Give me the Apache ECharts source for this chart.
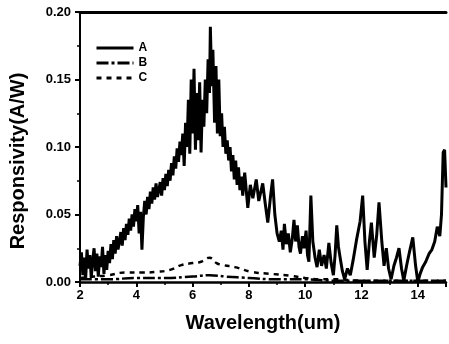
<!DOCTYPE html>
<html>
<head>
<meta charset="utf-8">
<script src="https://cdn.jsdelivr.net/npm/echarts@6/dist/echarts.min.js"></script>
<style>
  html, body { margin: 0; padding: 0; background: #fff; }
  #chart { width: 449px; height: 344px; }
</style>
</head>
<body>
<div id="chart"></div>
<script>
// Spectral responsivity of three detector samples, wavelength in um.
const seriesNames = ['A', 'B', 'C'];

// Sample A: [wavelength, responsivity]
const respA = [
  [2.00,0.012],[2.05,0.022],[2.10,0.005],[2.15,0.018],[2.20,0.002],[2.25,0.024],[2.30,0.010],[2.35,0.020],
  [2.40,0.003],[2.45,0.016],[2.50,0.025],[2.55,0.008],[2.60,0.021],[2.65,0.004],[2.70,0.019],[2.75,0.011],
  [2.80,0.026],[2.85,0.006],[2.90,0.020],[2.95,0.009],[3.00,0.023],[3.05,0.014],[3.10,0.028],[3.15,0.017],
  [3.20,0.031],[3.25,0.021],[3.30,0.034],[3.35,0.024],[3.40,0.030],[3.45,0.037],[3.50,0.027],[3.55,0.040],
  [3.60,0.031],[3.65,0.043],[3.70,0.035],[3.75,0.047],[3.80,0.038],[3.85,0.050],[3.90,0.041],[3.95,0.054],
  [4.00,0.045],[4.05,0.057],[4.10,0.036],[4.15,0.052],[4.20,0.024],[4.25,0.048],[4.30,0.060],[4.35,0.050],
  [4.40,0.063],[4.45,0.054],[4.50,0.067],[4.55,0.058],[4.60,0.070],[4.65,0.061],[4.70,0.073],[4.75,0.063],
  [4.80,0.068],[4.85,0.074],[4.90,0.064],[4.95,0.077],[5.00,0.068],[5.05,0.080],[5.10,0.071],[5.15,0.083],
  [5.20,0.075],[5.25,0.088],[5.30,0.079],[5.35,0.093],[5.40,0.084],[5.45,0.099],[5.50,0.089],[5.55,0.104],
  [5.60,0.094],[5.65,0.110],[5.70,0.086],[5.75,0.118],[5.80,0.100],[5.85,0.135],[5.90,0.095],[5.95,0.150],
  [6.00,0.110],[6.05,0.158],[6.10,0.098],[6.15,0.140],[6.20,0.105],[6.25,0.148],[6.30,0.096],[6.35,0.135],
  [6.40,0.115],[6.45,0.150],[6.50,0.125],[6.55,0.165],[6.60,0.140],[6.63,0.189],[6.68,0.145],[6.72,0.172],
  [6.78,0.118],[6.83,0.160],[6.88,0.110],[6.93,0.150],[6.98,0.108],[7.03,0.125],[7.08,0.100],[7.13,0.115],
  [7.18,0.095],[7.23,0.105],[7.28,0.090],[7.33,0.100],[7.38,0.082],[7.43,0.094],[7.48,0.076],[7.53,0.090],
  [7.58,0.072],[7.63,0.085],[7.68,0.068],[7.73,0.078],[7.78,0.064],[7.85,0.081],[7.96,0.055],[8.05,0.072],
  [8.14,0.062],[8.26,0.076],[8.35,0.060],[8.49,0.073],[8.58,0.058],[8.67,0.044],[8.76,0.062],[8.84,0.076],
  [8.92,0.050],[9.00,0.036],[9.08,0.030],[9.15,0.038],[9.21,0.024],[9.26,0.043],[9.33,0.028],[9.40,0.036],
  [9.47,0.022],[9.54,0.032],[9.60,0.046],[9.66,0.030],[9.72,0.042],[9.78,0.026],[9.83,0.021],[9.90,0.034],
  [9.96,0.025],[10.03,0.038],[10.08,0.020],[10.13,0.015],[10.20,0.064],[10.27,0.030],[10.35,0.018],[10.42,0.011],
  [10.50,0.024],[10.58,0.012],[10.67,0.020],[10.75,0.010],[10.84,0.029],[10.92,0.014],[11.00,0.005],[11.06,0.020],
  [11.12,0.042],[11.18,0.026],[11.24,0.018],[11.32,0.008],[11.40,0.002],[11.50,0.010],[11.60,0.005],[11.70,0.016],
  [11.82,0.031],[11.95,0.045],[12.04,0.064],[12.12,0.030],[12.20,0.009],[12.28,0.030],[12.35,0.044],[12.45,0.018],
  [12.54,0.035],[12.62,0.059],[12.72,0.030],[12.80,0.012],[12.88,0.025],[12.96,0.010],[13.05,0.002],[13.15,0.012],
  [13.24,0.018],[13.33,0.025],[13.42,0.010],[13.50,0.001],[13.60,0.012],[13.70,0.022],[13.82,0.033],[13.92,0.012],
  [14.00,0.000],[14.08,0.006],[14.17,0.011],[14.28,0.015],[14.40,0.021],[14.50,0.024],[14.60,0.030],[14.69,0.041],
  [14.78,0.034],[14.84,0.050],[14.90,0.096],[14.95,0.098],[15.00,0.070]
];

// Sample B: [wavelength, responsivity]
const respB = [
  [2.0,0.002],[3.0,0.002],[4.0,0.003],[5.0,0.003],[6.0,0.004],[6.6,0.005],[7.2,0.004],[8.0,0.003],
  [9.0,0.002],[10.0,0.002],[11.0,0.001],[12.0,0.001],[13.0,0.001],[14.0,0.001],[15.0,0.001]
];

// Sample C: [wavelength, responsivity]
const respC = [
  [2.0,0.003],[2.5,0.004],[3.0,0.005],[3.6,0.007],[4.2,0.007],[4.7,0.0075],[5.2,0.009],[5.6,0.0125],
  [6.0,0.014],[6.3,0.015],[6.6,0.018],[6.85,0.014],[7.1,0.0125],[7.5,0.011],[8.1,0.0075],[8.8,0.006],
  [9.5,0.0045],[10.0,0.003],[10.5,0.002],[11.0,0.002],[12.0,0.001],[13.0,0.001],[14.0,0.001],[15.0,0.001]
];

const yTicks = { min: 0, max: 0.20, interval: 0.05 };
const xTicks = { min: 2, max: 15, interval: 2 };

const chart = echarts.init(document.getElementById('chart'), null, { renderer: 'canvas' });
const ink = '#000';
const fontFam = '"Liberation Sans", Arial, sans-serif';
// line series have no point markers, so the legend shows only the stroke
const noMarker = { color: 'rgba(0,0,0,0)', borderColor: 'rgba(0,0,0,0)' };

chart.setOption({
  backgroundColor: '#fff',
  animation: false,
  grid: { left: 80, right: 0, top: 12, bottom: 62, containLabel: false },
  legend: {
    orient: 'vertical',
    left: 90,
    top: 37,
    itemWidth: 37,
    itemHeight: 14,
    itemGap: 3,
    itemStyle: noMarker,
    lineStyle: { width: 3 },
    textStyle: { color: ink, fontWeight: 'bold', fontSize: 12, fontFamily: fontFam },
    data: seriesNames
  },
  xAxis: [{
    type: 'value',
    min: xTicks.min, max: xTicks.max, interval: xTicks.interval,
    name: 'Wavelength(um)',
    nameLocation: 'middle',
    nameGap: 31,
    nameTextStyle: { color: ink, fontWeight: 'bold', fontSize: 20, fontFamily: fontFam },
    axisLine: { onZero: false, lineStyle: { color: ink, width: 2.5 } },
    axisTick: { inside: false, length: 5, lineStyle: { color: ink, width: 2 } },
    minorTick: { show: true, splitNumber: 2, length: 3, lineStyle: { color: ink, width: 1.5 } },
    axisLabel: { color: ink, fontWeight: 'bold', fontSize: 13, fontFamily: fontFam, margin: 7,
      formatter: v => (v % 2 === 0 ? String(v) : '') },
    splitLine: { show: false }
  }, {
    type: 'value',
    position: 'top',
    min: xTicks.min, max: xTicks.max,
    axisLine: { onZero: false, lineStyle: { color: ink, width: 3 } },
    axisTick: { show: false },
    axisLabel: { show: false },
    splitLine: { show: false }
  }],
  yAxis: {
    type: 'value',
    min: yTicks.min, max: yTicks.max, interval: yTicks.interval,
    name: 'Responsivity(A/W)',
    nameLocation: 'middle',
    nameGap: 52,
    nameRotate: 90,
    nameTextStyle: { color: ink, fontWeight: 'bold', fontSize: 20, fontFamily: fontFam, padding: [0, 28, 0, 0] },
    axisLine: { show: true, onZero: false, lineStyle: { color: ink, width: 2 } },
    axisTick: { show: true, inside: false, length: 5, lineStyle: { color: ink, width: 2 } },
    minorTick: { show: true, splitNumber: 2, length: 3, lineStyle: { color: ink, width: 1.5 } },
    axisLabel: { color: ink, fontWeight: 'bold', fontSize: 13, fontFamily: fontFam, margin: 9,
      formatter: v => v.toFixed(2) },
    splitLine: { show: false }
  },
  series: [
    {
      name: seriesNames[0], type: 'line', data: respA, symbol: 'none',
      lineStyle: { color: ink, width: 3, type: 'solid' }, itemStyle: noMarker
    },
    {
      name: seriesNames[1], type: 'line', data: respB, symbol: 'none', smooth: true,
      lineStyle: { color: ink, width: 2.5, type: [12, 3, 3, 3] }, itemStyle: noMarker
    },
    {
      name: seriesNames[2], type: 'line', data: respC, symbol: 'none', smooth: true,
      lineStyle: { color: ink, width: 2.5, type: [5, 5] }, itemStyle: noMarker
    }
  ]
});
</script>
</body>
</html>
